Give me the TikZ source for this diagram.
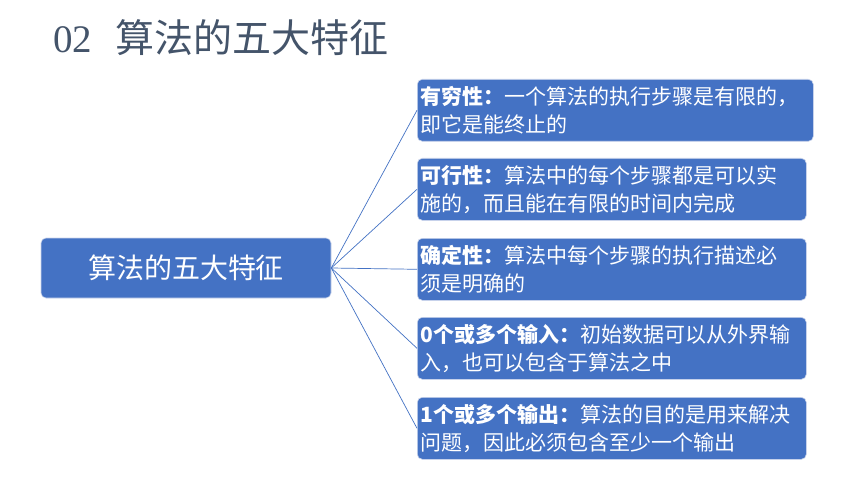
\documentclass[tikz,border=0pt]{standalone}
\usepackage{fontspec}
\newfontfamily\cjk{Noto Sans CJK SC}
\newfontfamily\digserif{Liberation Serif}
\definecolor{boxblue}{HTML}{4472C4}
\definecolor{titlecol}{HTML}{44546A}
\definecolor{edgecol}{RGB}{205,214,236}
\begin{document}
\begin{tikzpicture}[x=1pt,y=-1pt,
  rbox/.style={fill=boxblue, draw=edgecol, line width=0.6pt, rounded corners=5pt,
    anchor=north west, minimum height=62pt, text width=389pt, inner xsep=3pt,
    align=left, text=white, font=\cjk\fontsize{21}{28}\selectfont},
  mainbox/.style={fill=boxblue, draw=edgecol, line width=0.6pt, rounded corners=5pt,
    minimum width=290pt, minimum height=60pt, text=white, font=\cjk\fontsize{28}{32}\selectfont},
  conn/.style={draw=boxblue, line width=0.7pt}]
\useasboundingbox (0,0) rectangle (860,484);
\fill[white] (0,0) rectangle (860,484);
\node[anchor=west, text=titlecol, inner sep=0pt] (title) at (53,38)
  {\fontsize{39}{44}\selectfont{\digserif 02}\hspace{23pt}{\cjk 算法的五大特征}};
\node[mainbox] (main) at (186,268) {算法的五大特征};
\node[rbox, text width=390pt] (b1) at (417,79) {\textbf{有穷性：}一个算法的执行步骤是有限的，\\即它是能终止的};
\node[rbox, text width=383pt] (b2) at (417,158) {\textbf{可行性：}算法中的每个步骤都是可以实\\施的，而且能在有限的时间内完成};
\node[rbox, text width=383pt] (b3) at (417,238) {\textbf{确定性：}算法中每个步骤的执行描述必\\须是明确的};
\node[rbox, text width=383pt] (b4) at (417,317) {\textbf{0个或多个输入：}初始数据可以从外界输\\入，也可以包含于算法之中};
\node[rbox, text width=383pt] (b5) at (417,397) {\textbf{1个或多个输出：}算法的目的是用来解决\\问题，因此必须包含至少一个输出};
\foreach \b in {b1,b2,b3,b4,b5} \draw[conn] (main.east) -- (\b.west);
\end{tikzpicture}
\end{document}
